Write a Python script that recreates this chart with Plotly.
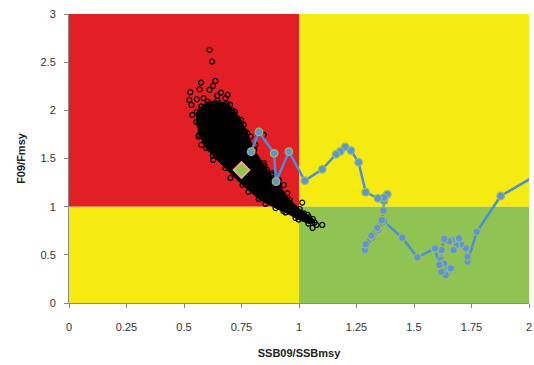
import plotly.graph_objects as go

# Reference thresholds
ref_x = 1.0
ref_y = 1.0
x_max = 2.0
y_max = 3.0

# Historical trajectory (SSB/SSBmsy, F/Fmsy), chronological
traj_x = [2.02, 1.877, 1.773, 1.733, 1.733, 1.725, 1.704, 1.696, 1.682, 1.672, 1.665, 1.653,
          1.631, 1.62, 1.617, 1.631, 1.646, 1.66, 1.638, 1.62, 1.61, 1.591, 1.515, 1.449,
          1.37, 1.345, 1.32, 1.29, 1.287, 1.29, 1.315, 1.34, 1.36, 1.367, 1.37, 1.384,
          1.37, 1.343, 1.29, 1.259, 1.226, 1.201, 1.18, 1.161, 1.101, 1.025, 0.956, 0.90,
          0.892, 0.826, 0.792]
traj_y = [1.31, 1.111, 0.74, 0.43, 0.48, 0.57, 0.61, 0.67, 0.60, 0.55, 0.65, 0.64,
          0.665, 0.55, 0.45, 0.41, 0.31, 0.36, 0.29, 0.325, 0.395, 0.568, 0.474, 0.678,
          0.845, 0.76, 0.68, 0.58, 0.55, 0.61, 0.70, 0.78, 0.86, 0.96, 1.06, 1.128,
          1.094, 1.087, 1.15, 1.46, 1.582, 1.62, 1.575, 1.544, 1.388, 1.27, 1.571, 1.26,
          1.554, 1.776, 1.57]

# Dense core of the 2009 uncertainty cloud (outline)
core_x = [0.575, 0.603, 0.646, 0.688, 0.722, 0.748, 0.775, 0.805, 0.850, 0.882, 0.910, 0.960,
          1.003, 1.038, 1.060, 1.068, 1.041, 0.998, 0.941, 0.898, 0.825, 0.755, 0.680, 0.625,
          0.596, 0.566, 0.553, 0.556, 0.575]
core_y = [2.040, 2.090, 2.100, 2.070, 1.983, 1.900, 1.765, 1.589, 1.423, 1.329, 1.236, 1.070,
          0.976, 0.914, 0.872, 0.835, 0.825, 0.866, 0.940, 0.985, 1.080, 1.225, 1.400, 1.530,
          1.610, 1.745, 1.880, 1.983, 2.040]

# Scattered cloud points around the core
pts_x = [0.611, 0.622, 0.574, 0.636, 0.626, 0.527, 0.568, 0.611, 0.661, 0.523, 0.556, 0.585,
         0.644, 0.680, 0.709, 0.731, 0.738, 0.563, 0.767, 0.789, 0.810, 0.847, 0.847, 0.861,
         0.883, 0.912, 0.934, 0.949, 1.014, 1.021, 1.043, 1.050, 1.101, 0.536, 0.532, 0.575,
         0.627, 0.702, 0.780, 0.854, 0.932, 0.985, 1.076, 1.059, 0.700, 0.690, 0.720, 0.760]
pts_y = [2.627, 2.506, 2.288, 2.305, 2.253, 2.188, 2.219, 2.212, 2.184, 2.108, 2.115, 2.126,
         2.150, 2.126, 2.004, 1.918, 1.883, 1.727, 1.779, 1.727, 1.641, 1.745, 1.451, 1.381,
         1.347, 1.277, 1.225, 1.139, 1.042, 0.931, 0.890, 0.862, 0.810, 1.952, 2.056, 1.641,
         1.485, 1.298, 1.153, 1.028, 0.955, 0.883, 0.810, 0.779, 2.060, 2.160, 1.960, 1.850]

# Current (2009) point estimate
cur_x = [0.75]
cur_y = [1.38]

x_ticks = [0, 0.25, 0.5, 0.75, 1, 1.25, 1.5, 1.75, 2]
x_labels = ["0", "0.25", "0.5", "0.75", "1", "1.25", "1.5", "1.75", "2"]
y_ticks = [0, 0.5, 1, 1.5, 2, 2.5, 3]
y_labels = ["0", "0.5", "1", "1.5", "2", "2.5", "3"]

RED = "#e31f26"
YELLOW = "#f6eb10"
GREEN = "#8fc453"

fig = go.Figure()

shapes = [
    dict(type="rect", xref="x", yref="y", x0=0, x1=ref_x, y0=ref_y, y1=y_max,
         fillcolor=RED, line_width=0, layer="below"),
    dict(type="rect", xref="x", yref="y", x0=ref_x, x1=x_max, y0=ref_y, y1=y_max,
         fillcolor=YELLOW, line_width=0, layer="below"),
    dict(type="rect", xref="x", yref="y", x0=0, x1=ref_x, y0=0, y1=ref_y,
         fillcolor=YELLOW, line_width=0, layer="below"),
    dict(type="rect", xref="x", yref="y", x0=ref_x, x1=x_max, y0=0, y1=ref_y,
         fillcolor=GREEN, line_width=0, layer="below"),
]

fig.add_trace(go.Scatter(
    x=core_x, y=core_y, mode="lines+markers", fill="toself", fillcolor="black",
    line=dict(color="black", width=1),
    marker=dict(symbol="circle-open", size=5, color="black", line=dict(width=1.2)),
    hoverinfo="skip", showlegend=False))

fig.add_trace(go.Scatter(
    x=pts_x, y=pts_y, mode="markers",
    marker=dict(symbol="circle-open", size=5, color="black", line=dict(width=1.2)),
    showlegend=False))

fig.add_trace(go.Scatter(
    x=traj_x, y=traj_y, mode="lines+markers",
    line=dict(color="#4a8fd9", width=2.5),
    marker=dict(symbol="circle", size=7.5, color="#5a96d6",
                line=dict(color="#9fb86a", width=1.3)),
    cliponaxis=True, showlegend=False))

fig.add_trace(go.Scatter(
    x=cur_x, y=cur_y, mode="markers",
    marker=dict(symbol="diamond", size=12, color="#8dc453",
                line=dict(color="#f2a67e", width=2)),
    showlegend=False))

axis_font = dict(family="Liberation Sans, Arial, sans-serif", size=11, color="#333333")
title_font = dict(family="Liberation Sans, Arial, sans-serif", size=11, color="#222222")

fig.update_layout(
    width=534, height=365,
    margin=dict(l=69, r=5, t=14, b=62),
    paper_bgcolor="white", plot_bgcolor="white",
    shapes=shapes,
    xaxis=dict(range=[0, x_max], tickvals=x_ticks, ticktext=x_labels, automargin=False,
               showgrid=False, zeroline=False, showline=True, linecolor="#8a8a8a",
               linewidth=1, ticks="outside", ticklen=4, tickcolor="#8a8a8a",
               tickfont=axis_font, ticklabelstandoff=10, ticklabeloverflow="allow",
               title=dict(text="<b>SSB09/SSBmsy</b>", font=title_font, standoff=17)),
    yaxis=dict(range=[0, y_max], tickvals=y_ticks, ticktext=y_labels, automargin=False,
               showgrid=False, zeroline=False, showline=True, linecolor="#8a8a8a",
               linewidth=1, ticks="outside", ticklen=4, tickcolor="#8a8a8a",
               tickfont=axis_font, ticklabelstandoff=6, ticklabeloverflow="allow",
               title=dict(text="<b>F09/Fmsy</b>", font=title_font, standoff=12)),
)

fig.write_html("out.html", config={"displayModeBar": False},
               post_script="document.body.style.margin='0';document.body.style.overflow='hidden';")
